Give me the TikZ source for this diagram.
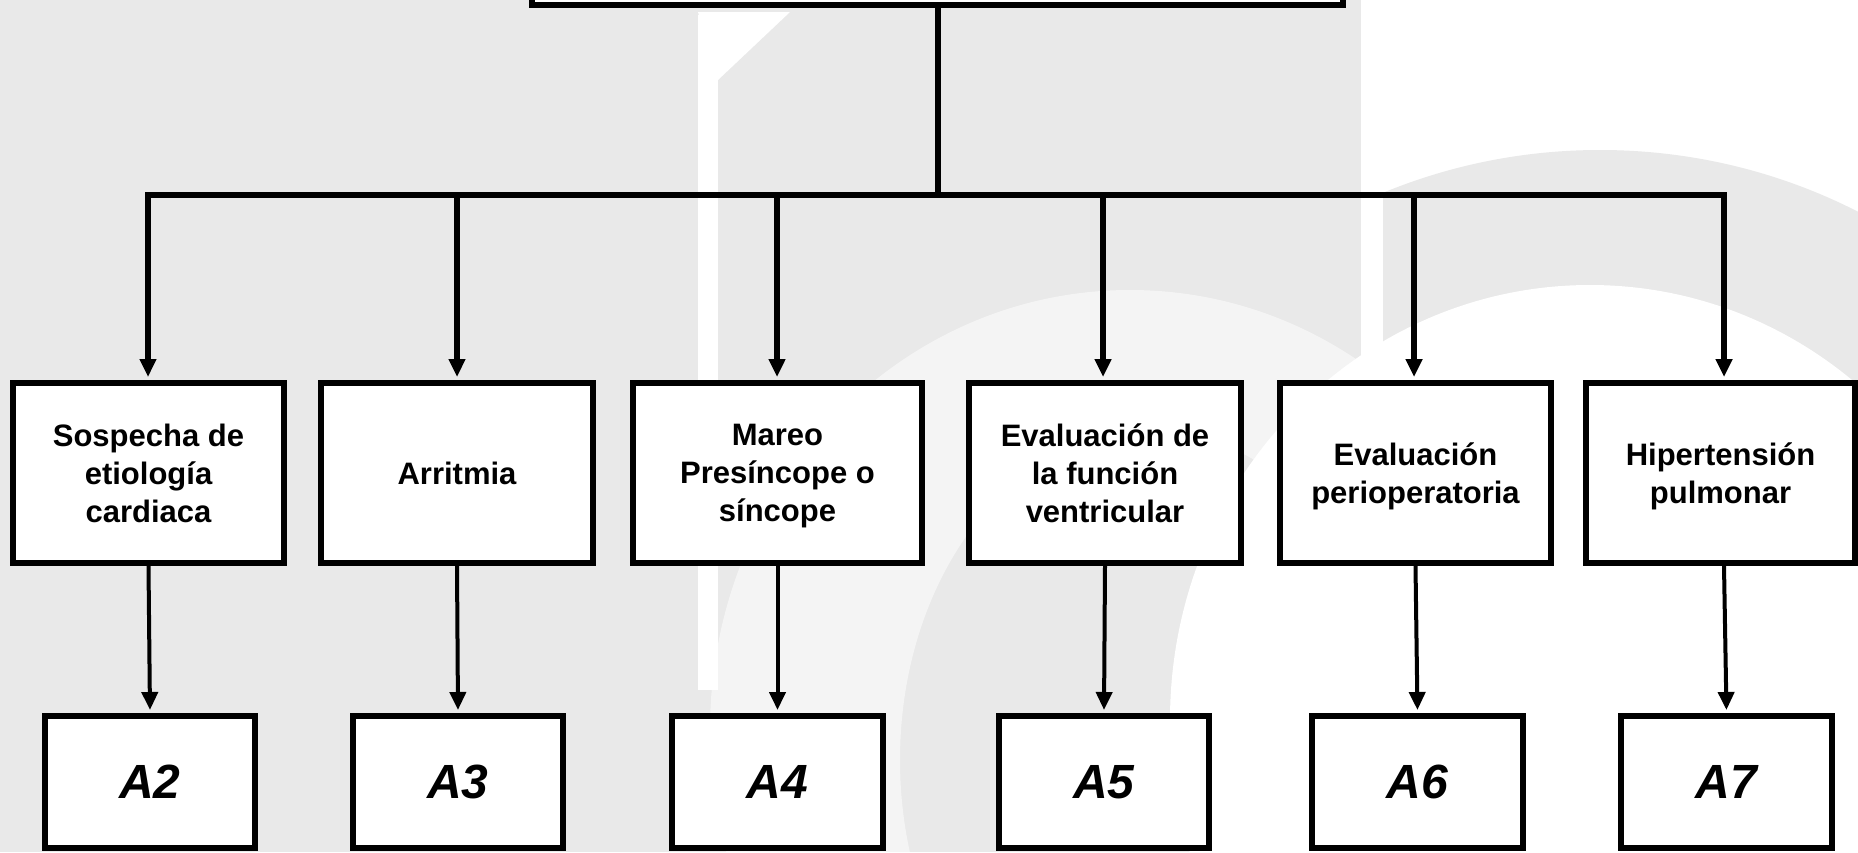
\documentclass[tikz,border=0pt]{standalone}
\usepackage{fontspec}
\setmainfont{Liberation Sans}
\usetikzlibrary{arrows.meta}
\definecolor{bggray}{HTML}{E9E9E9}
\begin{document}
\begin{tikzpicture}[x=1pt, y=-1pt,
  box/.style={draw, line width=6pt, fill=white, inner sep=0pt, align=center,
    font=\fontsize{31}{38}\selectfont\bfseries},
  midbox/.style={box, minimum height=180pt, text depth=0pt},
  refbox/.style={box, minimum width=210pt, minimum height=132pt,
    font=\fontsize{48}{58}\selectfont\bfseries\itshape},
  branch/.style={line width=6pt, line join=miter},
  feed/.style={line width=6pt, -{Triangle[length=18pt,width=16pt]}, shorten >=3pt},
  link/.style={line width=4pt, -{Triangle[length=18pt,width=16pt]}, shorten >=3pt}]

\useasboundingbox (0,0) rectangle (1858,852);

% faint background emblem
\begin{scope}
  \clip (0,0) rectangle (1858,852);
  \fill[bggray] (0,0) rectangle (1858,852);
  \fill[white] (1361,0) rectangle (1858,852);
  \begin{scope}
    \clip (1383,0) rectangle (1858,852);
    \fill[bggray] (1600,700) ellipse [x radius=560, y radius=550];
  \end{scope}
  \fill[white] (1590,720) ellipse [x radius=420, y radius=435];
  \fill[white] (698,15) rectangle (718,690);
  \fill[white] (698,12) -- (790,12) -- (718,80) -- cycle;
  \fill[white, opacity=0.5, even odd rule]
    (1130,730) ellipse [x radius=420, y radius=440]
    (1150,760) ellipse [x radius=250, y radius=330];
\end{scope}

\begin{scope}
\clip (0,0) rectangle (1858,852);

% root box, mostly above the frame
\node[box, minimum width=811pt, minimum height=205pt] (root) at (937.5,-97.5) {};

% second row
\node[midbox, minimum width=271pt] (m1) at (148.5,473) {Sospecha de\\etiología\\cardiaca};
\node[midbox, minimum width=272pt] (m2) at (457,473) {Arritmia};
\node[midbox, minimum width=289pt] (m3) at (777.5,473) {Mareo\\Presíncope o\\síncope};
\node[midbox, minimum width=272pt] (m4) at (1105,473) {Evaluación de\\la función\\ventricular};
\node[midbox, minimum width=271pt] (m5) at (1415.5,473) {Evaluación\\perioperatoria};
\node[midbox, minimum width=269pt] (m6) at (1720.5,473) {Hipertensión\\pulmonar};

% third row
\node[refbox] (a2) at (150,782) {A2};
\node[refbox] (a3) at (458,782) {A3};
\node[refbox, minimum width=211pt] (a4) at (777.5,782) {A4};
\node[refbox] (a5) at (1104,782) {A5};
\node[refbox, minimum width=211pt] (a6) at (1417.5,782) {A6};
\node[refbox, minimum width=211pt] (a7) at (1726.5,782) {A7};

% branching bus
\coordinate (j) at (938,195);
\coordinate (d1) at (148,195);
\coordinate (d2) at (457,195);
\coordinate (d3) at (777,195);
\coordinate (d4) at (1103,195);
\coordinate (d5) at (1414,195);
\coordinate (d6) at (1724,195);

\draw[branch] (root.south -| j) -- (j);
\draw[branch] (d2) -- (d5);
\draw[feed] (d2) -- (d1) -- (d1 |- m1.north);
\draw[feed] (d5) -- (d6) -- (d6 |- m6.north);
\draw[feed] (d2) -- (d2 |- m2.north);
\draw[feed] (d3) -- (d3 |- m3.north);
\draw[feed] (d4) -- (d4 |- m4.north);
\draw[feed] (d5) -- (d5 |- m5.north);

% links to the reference boxes
\draw[link] (m1.south) -- (a2.north);
\draw[link] (m2.south) -- (a3.north);
\draw[link] (m3.south) -- (a4.north);
\draw[link] (m4.south) -- (a5.north);
\draw[link] (m5.south) -- (a6.north);
\draw[link] (d6 |- m6.south) -- (a7.north);
\end{scope}
\end{tikzpicture}
\end{document}
